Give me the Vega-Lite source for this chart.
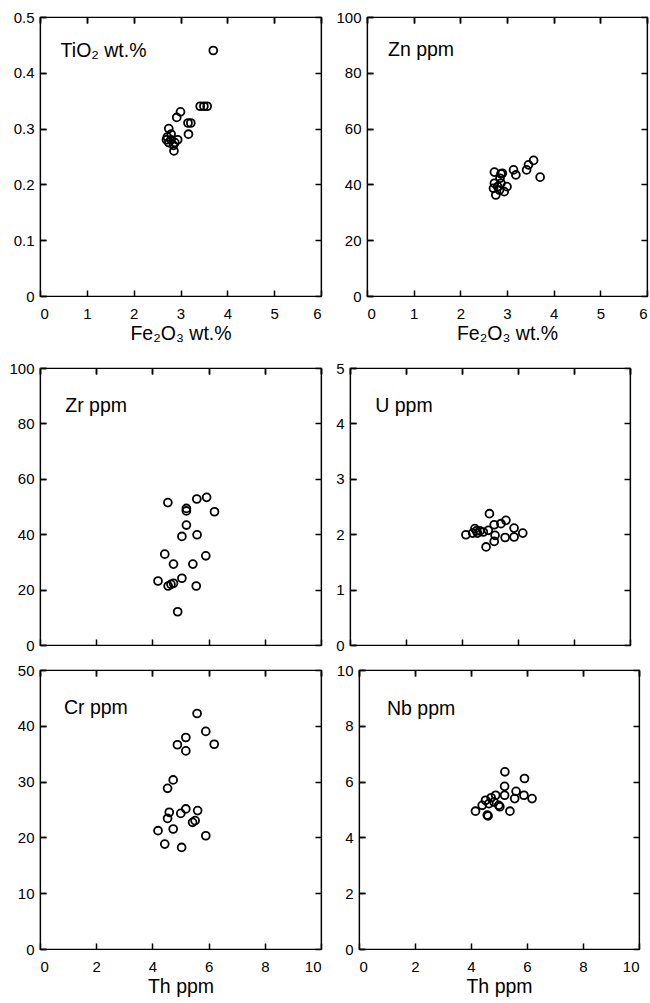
{
  "$schema": "https://vega.github.io/schema/vega-lite/v6.json",
  "background": "white",
  "padding": {"left": 8, "top": 9, "right": 5, "bottom": 0},
  "config": {
    "view": {"stroke": "black", "strokeWidth": 1.2},
    "font": "Liberation Sans",
    "axis": {
      "grid": true,
      "gridColor": "black",
      "gridOpacity": 1,
      "gridWidth": 1.5,
      "gridDash": [6, 1000],
      "domainColor": "black",
      "domainWidth": 1.2,
      "tickSize": -6,
      "tickColor": "#000000",
      "tickWidth": 1.5,
      "labelFont": "Liberation Sans",
      "labelFontSize": 15,
      "labelColor": "black",
      "labelPadding": 12,
      "titleFont": "Liberation Sans",
      "titleFontSize": 19.5,
      "titleFontWeight": "normal",
      "titleColor": "black",
      "titlePadding": 3
    },
    "axisX": {"labelPadding": 16},
    "text": {"font": "Liberation Sans", "fontSize": 19.5, "color": "black"},
    "point": {"shape": "circle", "filled": false, "color": "black", "size": 62, "strokeWidth": 1.8, "opacity": 1}
  },
  "datasets": {
    "tio2": [
      {"fe": 3.70, "v": 0.44}, {"fe": 3.42, "v": 0.34}, {"fe": 3.50, "v": 0.34}, {"fe": 3.57, "v": 0.34},
      {"fe": 3.00, "v": 0.33}, {"fe": 2.92, "v": 0.32}, {"fe": 3.16, "v": 0.31}, {"fe": 3.22, "v": 0.31},
      {"fe": 3.17, "v": 0.29}, {"fe": 2.75, "v": 0.30}, {"fe": 2.70, "v": 0.28}, {"fe": 2.72, "v": 0.285},
      {"fe": 2.75, "v": 0.275}, {"fe": 2.80, "v": 0.29}, {"fe": 2.94, "v": 0.28}, {"fe": 2.85, "v": 0.27},
      {"fe": 2.86, "v": 0.26}, {"fe": 2.80, "v": 0.28}, {"fe": 2.88, "v": 0.275}
    ],
    "zn": [
      {"fe": 3.57, "v": 48.6}, {"fe": 3.46, "v": 47.0}, {"fe": 3.42, "v": 45.2}, {"fe": 3.71, "v": 42.6},
      {"fe": 3.14, "v": 45.2}, {"fe": 3.19, "v": 43.4}, {"fe": 2.73, "v": 44.4}, {"fe": 2.87, "v": 43.8},
      {"fe": 2.85, "v": 42.2}, {"fe": 3.00, "v": 39.2}, {"fe": 2.73, "v": 40.4}, {"fe": 2.71, "v": 38.6},
      {"fe": 2.76, "v": 36.2}, {"fe": 2.94, "v": 37.4}, {"fe": 2.80, "v": 39.2}, {"fe": 2.87, "v": 40.4},
      {"fe": 2.84, "v": 38.0}, {"fe": 2.90, "v": 44.0}
    ],
    "zr": [
      {"th": 4.55, "v": 51.4}, {"th": 5.21, "v": 49.3}, {"th": 5.21, "v": 48.4}, {"th": 5.58, "v": 52.7},
      {"th": 5.93, "v": 53.3}, {"th": 6.21, "v": 48.1}, {"th": 5.21, "v": 43.3}, {"th": 5.05, "v": 39.2},
      {"th": 5.59, "v": 39.8}, {"th": 4.44, "v": 32.8}, {"th": 4.75, "v": 29.2}, {"th": 5.44, "v": 29.2},
      {"th": 5.90, "v": 32.2}, {"th": 4.20, "v": 23.1}, {"th": 4.56, "v": 21.3}, {"th": 4.66, "v": 21.9},
      {"th": 4.75, "v": 22.3}, {"th": 5.05, "v": 24.1}, {"th": 5.56, "v": 21.3}, {"th": 4.90, "v": 12.0}
    ],
    "u": [
      {"th": 4.14, "v": 1.99}, {"th": 4.46, "v": 2.10}, {"th": 4.38, "v": 2.02}, {"th": 4.55, "v": 2.02},
      {"th": 4.64, "v": 2.06}, {"th": 4.76, "v": 2.04}, {"th": 4.98, "v": 2.37}, {"th": 4.94, "v": 2.07},
      {"th": 5.15, "v": 2.17}, {"th": 5.39, "v": 2.19}, {"th": 5.57, "v": 2.25}, {"th": 5.18, "v": 1.98},
      {"th": 5.15, "v": 1.87}, {"th": 4.86, "v": 1.77}, {"th": 5.54, "v": 1.94}, {"th": 5.86, "v": 2.11},
      {"th": 5.86, "v": 1.95}, {"th": 6.17, "v": 2.02}, {"th": 4.52, "v": 2.06}
    ],
    "cr": [
      {"th": 5.59, "v": 42.2}, {"th": 5.90, "v": 39.0}, {"th": 6.20, "v": 36.7}, {"th": 5.19, "v": 37.9},
      {"th": 4.89, "v": 36.6}, {"th": 5.19, "v": 35.5}, {"th": 4.74, "v": 30.3}, {"th": 4.54, "v": 28.8},
      {"th": 4.60, "v": 24.5}, {"th": 4.54, "v": 23.4}, {"th": 5.01, "v": 24.3}, {"th": 5.19, "v": 25.1},
      {"th": 5.61, "v": 24.8}, {"th": 5.43, "v": 22.7}, {"th": 5.52, "v": 23.0}, {"th": 4.20, "v": 21.2},
      {"th": 4.74, "v": 21.5}, {"th": 4.44, "v": 18.8}, {"th": 5.04, "v": 18.2}, {"th": 5.90, "v": 20.3}
    ],
    "nb": [
      {"th": 5.21, "v": 6.35}, {"th": 5.91, "v": 6.11}, {"th": 5.20, "v": 5.83}, {"th": 5.61, "v": 5.65},
      {"th": 5.89, "v": 5.51}, {"th": 6.18, "v": 5.39}, {"th": 5.56, "v": 5.39}, {"th": 5.20, "v": 5.51},
      {"th": 4.88, "v": 5.51}, {"th": 4.72, "v": 5.42}, {"th": 4.52, "v": 5.33}, {"th": 4.40, "v": 5.15},
      {"th": 4.16, "v": 4.94}, {"th": 4.58, "v": 4.80}, {"th": 4.61, "v": 4.77}, {"th": 4.99, "v": 5.15},
      {"th": 5.03, "v": 5.10}, {"th": 5.39, "v": 4.94}, {"th": 4.82, "v": 5.27}, {"th": 4.64, "v": 5.21}
    ],
    "one": [{}]
  },
  "spacing": 16,
  "vconcat": [
    {
      "spacing": 12,
      "hconcat": [
        {
          "width": 281, "height": 279,
          "resolve": {"axis": {"x": "independent", "y": "independent"}},
          "layer": [
            {
              "data": {"name": "tio2"},
              "mark": {"type": "point"},
              "encoding": {
                "x": {"field": "fe", "type": "quantitative", "scale": {"domain": [0, 6], "nice": false}, "axis": {"orient": "bottom", "values": [0, 1, 2, 3, 4, 5, 6], "title": "Fe₂O₃ wt.%"}},
                "y": {"field": "v", "type": "quantitative", "scale": {"domain": [0, 0.5], "nice": false}, "axis": {"orient": "left", "values": [0, 0.1, 0.2, 0.3, 0.4, 0.5], "labelExpr": "toString(datum.value)", "title": null}}
              }
            },
            {
              "data": {"name": "one"},
              "mark": {"type": "text", "align": "left", "baseline": "alphabetic"},
              "encoding": {
                "x": {"datum": 0.44, "type": "quantitative", "axis": {"orient": "top", "values": [0, 1, 2, 3, 4, 5, 6], "labels": false, "title": null}},
                "y": {"datum": 0.428, "type": "quantitative", "axis": {"orient": "right", "values": [0, 0.1, 0.2, 0.3, 0.4, 0.5], "labels": false, "title": null}},
                "text": {"value": "TiO₂ wt.%"}
              }
            }
          ]
        },
        {
          "width": 280, "height": 279,
          "resolve": {"axis": {"x": "independent", "y": "independent"}},
          "layer": [
            {
              "data": {"name": "zn"},
              "mark": {"type": "point"},
              "encoding": {
                "x": {"field": "fe", "type": "quantitative", "scale": {"domain": [0, 6], "nice": false}, "axis": {"orient": "bottom", "values": [0, 1, 2, 3, 4, 5, 6], "title": "Fe₂O₃ wt.%"}},
                "y": {"field": "v", "type": "quantitative", "scale": {"domain": [0, 100], "nice": false}, "axis": {"orient": "left", "values": [0, 20, 40, 60, 80, 100], "title": null}}
              }
            },
            {
              "data": {"name": "one"},
              "mark": {"type": "text", "align": "left", "baseline": "alphabetic"},
              "encoding": {
                "x": {"datum": 0.45, "type": "quantitative", "axis": {"orient": "top", "values": [0, 1, 2, 3, 4, 5, 6], "labels": false, "title": null}},
                "y": {"datum": 86, "type": "quantitative", "axis": {"orient": "right", "values": [0, 20, 40, 60, 80, 100], "labels": false, "title": null}},
                "text": {"value": "Zn ppm"}
              }
            }
          ]
        }
      ]
    },
    {
      "spacing": 8,
      "vconcat": [
        {
          "spacing": 12,
          "hconcat": [
            {
              "width": 281, "height": 277,
              "resolve": {"axis": {"x": "independent", "y": "independent"}},
              "layer": [
                {
                  "data": {"name": "zr"},
                  "mark": {"type": "point"},
                  "encoding": {
                    "x": {"field": "th", "type": "quantitative", "scale": {"domain": [0, 10], "nice": false}, "axis": {"orient": "bottom", "values": [0, 2, 4, 6, 8, 10], "labels": false, "title": null}},
                    "y": {"field": "v", "type": "quantitative", "scale": {"domain": [0, 100], "nice": false}, "axis": {"orient": "left", "values": [0, 20, 40, 60, 80, 100], "title": null}}
                  }
                },
                {
                  "data": {"name": "one"},
                  "mark": {"type": "text", "align": "left", "baseline": "alphabetic"},
                  "encoding": {
                    "x": {"datum": 0.9, "type": "quantitative", "axis": {"orient": "top", "values": [0, 2, 4, 6, 8, 10], "labels": false, "title": null}},
                    "y": {"datum": 84, "type": "quantitative", "axis": {"orient": "right", "values": [0, 20, 40, 60, 80, 100], "labels": false, "title": null}},
                    "text": {"value": "Zr ppm"}
                  }
                }
              ]
            },
            {
              "width": 280, "height": 277,
              "resolve": {"axis": {"x": "independent", "y": "independent"}},
              "layer": [
                {
                  "data": {"name": "u"},
                  "mark": {"type": "point"},
                  "encoding": {
                    "x": {"field": "th", "type": "quantitative", "scale": {"domain": [0, 10], "nice": false}, "axis": {"orient": "bottom", "values": [0, 2, 4, 6, 8, 10], "labels": false, "title": null}},
                    "y": {"field": "v", "type": "quantitative", "scale": {"domain": [0, 5], "nice": false}, "axis": {"orient": "left", "values": [0, 1, 2, 3, 4, 5], "title": null}}
                  }
                },
                {
                  "data": {"name": "one"},
                  "mark": {"type": "text", "align": "left", "baseline": "alphabetic"},
                  "encoding": {
                    "x": {"datum": 0.9, "type": "quantitative", "axis": {"orient": "top", "values": [0, 2, 4, 6, 8, 10], "labels": false, "title": null}},
                    "y": {"datum": 4.2, "type": "quantitative", "axis": {"orient": "right", "values": [0, 1, 2, 3, 4, 5], "labels": false, "title": null}},
                    "text": {"value": "U ppm"}
                  }
                }
              ]
            }
          ]
        },
        {
          "spacing": 12,
          "hconcat": [
            {
              "width": 281, "height": 279,
              "resolve": {"axis": {"x": "independent", "y": "independent"}},
              "layer": [
                {
                  "data": {"name": "cr"},
                  "mark": {"type": "point"},
                  "encoding": {
                    "x": {"field": "th", "type": "quantitative", "scale": {"domain": [0, 10], "nice": false}, "axis": {"orient": "bottom", "values": [0, 2, 4, 6, 8, 10], "title": "Th ppm"}},
                    "y": {"field": "v", "type": "quantitative", "scale": {"domain": [0, 50], "nice": false}, "axis": {"orient": "left", "values": [0, 10, 20, 30, 40, 50], "title": null}}
                  }
                },
                {
                  "data": {"name": "one"},
                  "mark": {"type": "text", "align": "left", "baseline": "alphabetic"},
                  "encoding": {
                    "x": {"datum": 0.85, "type": "quantitative", "axis": {"orient": "top", "values": [0, 2, 4, 6, 8, 10], "labels": false, "title": null}},
                    "y": {"datum": 42.1, "type": "quantitative", "axis": {"orient": "right", "values": [0, 10, 20, 30, 40, 50], "labels": false, "title": null}},
                    "text": {"value": "Cr ppm"}
                  }
                }
              ]
            },
            {
              "width": 280, "height": 279,
              "resolve": {"axis": {"x": "independent", "y": "independent"}},
              "layer": [
                {
                  "data": {"name": "nb"},
                  "mark": {"type": "point"},
                  "encoding": {
                    "x": {"field": "th", "type": "quantitative", "scale": {"domain": [0, 10], "nice": false}, "axis": {"orient": "bottom", "values": [0, 2, 4, 6, 8, 10], "title": "Th ppm"}},
                    "y": {"field": "v", "type": "quantitative", "scale": {"domain": [0, 10], "nice": false}, "axis": {"orient": "left", "values": [0, 2, 4, 6, 8, 10], "title": null}}
                  }
                },
                {
                  "data": {"name": "one"},
                  "mark": {"type": "text", "align": "left", "baseline": "alphabetic"},
                  "encoding": {
                    "x": {"datum": 1.0, "type": "quantitative", "axis": {"orient": "top", "values": [0, 2, 4, 6, 8, 10], "labels": false, "title": null}},
                    "y": {"datum": 8.4, "type": "quantitative", "axis": {"orient": "right", "values": [0, 2, 4, 6, 8, 10], "labels": false, "title": null}},
                    "text": {"value": "Nb ppm"}
                  }
                }
              ]
            }
          ]
        }
      ]
    }
  ]
}
